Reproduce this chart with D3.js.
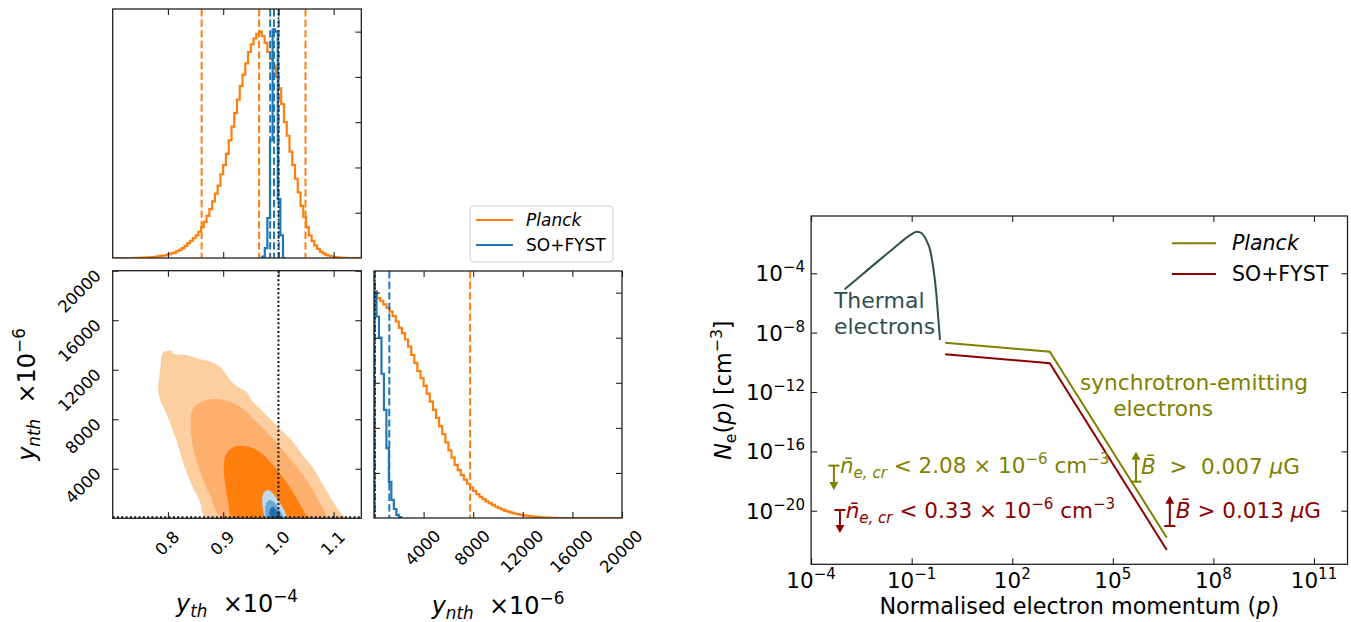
<!DOCTYPE html>
<html><head><meta charset="utf-8">
<script src="https://cdn.jsdelivr.net/npm/d3@7"></script>
<style>
body{margin:0;background:#fff}
svg text{font-family:"DejaVu Sans",sans-serif;white-space:pre}
</style></head>
<body><svg id="c" width="1351" height="622"></svg>
<script>
// ---------------- DATA ----------------
// 1D histogram of y_th (x1e-4), Planck (orange) - bin start / width / heights
const ythPlanckStart = 0.70, ythPlanckWidth = 0.005;
const ythPlanck = [0,0,0,0,0,0,0,0,
  0.003,0.005,0.008,0.01,0.013,0.017,0.022,0.028,0.035,0.045,0.055,0.065,0.08,0.1,0.12,0.15,0.18,0.22,0.27,0.33,0.38,0.44,
  0.5,0.58,0.68,0.8,0.93,1.08,1.25,1.42,1.6,1.85,2.05,2.3,2.6,2.9,3.2,3.5,3.8,4.05,4.3,4.55,4.72,4.85,4.95,5.0,4.9,4.75,
  4.55,4.4,4.25,4.0,3.75,3.4,3.0,2.7,2.35,2.05,1.75,1.45,1.15,0.9,0.68,0.5,0.38,0.28,0.2,0.14,0.1,0.07,0.05,0.035,0.022,
  0.015,0.01,0.006,0.003,0,0,0,0,0];
// SO+FYST (blue)
const ythSoStart = 0.9706, ythSoWidth = 0.0047;
const ythSo = [0.03,0.22,0.88,2.6,5.05,5.0,1.3,0.5,0];
// quantile lines
const ythPlanckQ = [0.861, 0.965, 1.049];
const ythSoQ = [0.985, 0.992, 1.0005];
// 1D histogram of y_nth (x1e-6)
const ynthPlanckStart = 0, ynthPlanckWidth = 250;
const ynthPlanck = [5.0,4.88,4.82,4.74,4.66,4.58,4.48,4.36,4.22,4.1,3.96,3.8,3.62,3.44,3.26,3.1,2.93,2.76,2.58,2.4,
  2.22,2.04,1.86,1.68,1.5,1.34,1.18,1.06,0.95,0.85,0.76,0.68,0.6,0.53,0.47,0.42,0.37,0.33,0.29,0.25,
  0.22,0.19,0.16,0.14,0.12,0.1,0.085,0.07,0.06,0.05,0.04,0.03,0.025,0.02,0.015,0.01,0.008,0.005,0.003,0,
  0,0,0,0,0,0,0,0,0,0,0,0,0,0,0,0,0,0,0,0];
const ynthSoStart = 0, ynthSoWidth = 200;
const ynthSo = [5.03,4.47,4.0,3.2,2.4,1.55,0.8,0.4,0.2,0.07,0.02];
const ynthPlanckQ = [7750];
const ynthSoQ = [80, 1235];
// truth values
const truthYth = 1.0, truthYnth = 0;
// 2D credible contours [y_th, y_nth]
const planckC1 = [[0.870,0],[0.858,1340],[0.846,2420],[0.831,4040],[0.816,6190],[0.798,8340],[0.785,9690],[0.782,10500],[0.784,11310],[0.787,12380],[0.790,13330],[0.798,13510],[0.807,13540],[0.810,13300],[0.834,13190],[0.858,12840],[0.882,12570],[0.894,12250],[0.906,11580],[0.918,10900],[0.930,10500],[0.942,10230],[0.954,9420],[0.972,8610],[0.990,7800],[1.008,7000],[1.026,6190],[1.044,5110],[1.063,4040],[1.081,2690],[1.099,1340],[1.111,530],[1.120,0]];
const planckC2 = [[0.899,0],[0.876,1880],[0.858,3760],[0.846,5650],[0.841,7800],[0.846,8880],[0.864,9470],[0.888,9640],[0.912,9420],[0.936,8830],[0.960,7800],[0.984,6730],[1.008,5520],[1.033,4170],[1.057,2690],[1.075,1210],[1.086,0]];
const planckC3 = [[0.918,0],[0.909,1340],[0.903,2960],[0.901,4310],[0.906,5250],[0.921,5790],[0.942,5810],[0.966,5380],[0.990,4310],[1.014,2960],[1.033,1620],[1.048,400],[1.052,0]];
const soC1 = [[0.978,0],[0.972,810],[0.971,1750],[0.975,2150],[0.983,2260],[0.990,2020],[0.999,1480],[1.008,860],[1.014,270],[1.015,0]];
const soC2 = [[0.979,0],[0.976,670],[0.978,1210],[0.984,1480],[0.992,1290],[1.001,750],[1.008,0]];
const soC3 = [[0.986,0],[0.984,590],[0.989,940],[0.996,670],[1.004,0]];
// tick values
const ythTicks = [0.8, 0.9, 1.0, 1.1];
const ynthTicks = [4000, 8000, 12000, 16000, 20000];
const histTicks = [1, 2, 3, 4, 5];

// Right panel: electron spectrum (log10 values)
const thermalLogP = [-3.0,-2.5,-2.0,-1.5,-1.2,-1.0,-0.85,-0.75,-0.65,-0.55,-0.45,-0.36,-0.275,-0.21,-0.156];
const thermalLogN = [-5.08,-4.13,-3.18,-2.24,-1.68,-1.36,-1.2,-1.24,-1.42,-1.83,-2.43,-3.56,-5.13,-6.92,-8.49];
const syncLogP = [0, 3.12, 6.61];
const syncPlanckLogN = [-8.68, -9.28, -21.82];
const syncSoLogN = [-9.46, -10.06, -22.65];
const pTickExp = [-4, -1, 2, 5, 8, 11];
const nTickExp = [-4, -8, -12, -16, -20];

// ---------------- DRAWING ----------------
const svg = d3.select('#c');
const FRAME = '#222';
const ORANGE = '#ff7f0e', BLUE = '#1f77b4';
const TL = 6;
const TFS = 16.5; // corner tick label size
const defs = svg.append('defs');
let clipN = 0;
function clip(x0, y0, x1, y1) {
  const id = 'cl' + (clipN++);
  defs.append('clipPath').attr('id', id).append('rect')
    .attr('x', x0).attr('y', y0).attr('width', x1 - x0).attr('height', y1 - y0);
  return 'url(#' + id + ')';
}
function axisG(g, gen, tr) {
  const a = g.append('g').attr('transform', tr).call(gen);
  a.select('.domain').remove();
  a.selectAll('.tick line').attr('stroke', FRAME).attr('stroke-width', 1.1);
  a.selectAll('.tick text').remove();
  return a;
}
function frame(g, x0, y0, x1, y1) {
  g.append('rect').attr('x', x0).attr('y', y0).attr('width', x1 - x0).attr('height', y1 - y0)
    .attr('fill', 'none').attr('stroke', FRAME).attr('stroke-width', 1.3);
}
function rich(t, parts, fs) {
  let cur = 0;
  parts.forEach(p => {
    const txt = p[0], st = p[1] || '';
    let target = 0, size = fs;
    if (st.includes('sup')) { target = -0.42 * fs; size = 0.7 * fs; }
    if (st.includes('sub')) { target = 0.22 * fs; size = 0.7 * fs; }
    const ts = t.append('tspan').text(txt).attr('font-size', size).attr('dy', (target - cur).toFixed(2));
    if (st.includes('it')) ts.attr('font-style', 'italic');
    cur = target;
  });
  return t;
}
function histPoints(start, width, vals) {
  const pts = [[start, 0]];
  vals.forEach((v, i) => { pts.push([start + i * width, v]); pts.push([start + (i + 1) * width, v]); });
  pts.push([start + vals.length * width, 0]);
  return pts;
}

// ---- scales for the corner plot
const xTh = d3.scaleLinear().domain([0.7, 1.15]).range([112.7, 361.3]);
const yTop = d3.scaleLinear().domain([0, 5.5]).range([258, 9]);
const yNth2 = d3.scaleLinear().domain([0, 20000]).range([518.3, 270.7]);
const xNth = d3.scaleLinear().domain([0, 20000]).range([374, 622]);
const yBR = d3.scaleLinear().domain([0, 5.48]).range([518, 271]);

// ===== Top panel: y_th histogram
{
  const g = svg.append('g');
  const [x0, x1, y0, y1] = [xTh.range()[0], xTh.range()[1], yTop.range()[1], yTop.range()[0]];
  const c = g.append('g').attr('clip-path', clip(x0, y0, x1, y1));
  const line = d3.line().x(d => xTh(d[0])).y(d => yTop(d[1]));
  c.append('path').attr('d', line(histPoints(ythPlanckStart, ythPlanckWidth, ythPlanck)))
    .attr('fill', 'none').attr('stroke', ORANGE).attr('stroke-width', 2.2);
  c.append('path').attr('d', line(histPoints(ythSoStart, ythSoWidth, ythSo)))
    .attr('fill', 'none').attr('stroke', BLUE).attr('stroke-width', 2.2);
  ythPlanckQ.forEach(q => c.append('line').attr('x1', xTh(q)).attr('x2', xTh(q)).attr('y1', y0).attr('y2', y1)
    .attr('stroke', ORANGE).attr('stroke-width', 2).attr('stroke-dasharray', '7.4,3.2'));
  ythSoQ.forEach(q => c.append('line').attr('x1', xTh(q)).attr('x2', xTh(q)).attr('y1', y0).attr('y2', y1)
    .attr('stroke', BLUE).attr('stroke-width', 2).attr('stroke-dasharray', '7.4,3.2'));
  c.append('line').attr('x1', xTh(truthYth)).attr('x2', xTh(truthYth)).attr('y1', y0).attr('y2', y1)
    .attr('stroke', '#111').attr('stroke-width', 1.6).attr('stroke-dasharray', '1.6,2.6');
  axisG(g, d3.axisTop(xTh).tickValues(ythTicks).tickSize(-TL), `translate(0,${y0})`);
  axisG(g, d3.axisBottom(xTh).tickValues(ythTicks).tickSize(-TL), `translate(0,${y1})`);
  axisG(g, d3.axisRight(yTop).tickValues(histTicks).tickSize(-TL), `translate(${x1},0)`);
  frame(g, x0, y0, x1, y1);
}

// ===== 2D panel
{
  const g = svg.append('g');
  const [x0, x1, y0, y1] = [xTh.range()[0], xTh.range()[1], yNth2.range()[1], yNth2.range()[0]];
  const c = g.append('g').attr('clip-path', clip(x0, y0, x1, y1));
  const area = d3.line().x(d => xTh(d[0])).y(d => yNth2(d[1])).curve(d3.curveCatmullRomClosed.alpha(0.5));
  const polys = [[planckC1, '#fdcfa0'], [planckC2, '#fdb06e'], [planckC3, '#ff7f0e'],
                 [soC1, '#bfd8ec'], [soC2, '#6ba6d6'], [soC3, '#1f6fb2']];
  polys.forEach(([p, col]) => c.append('path').attr('d', area(p)).attr('fill', col));
  c.append('line').attr('x1', xTh(truthYth)).attr('x2', xTh(truthYth)).attr('y1', y0).attr('y2', y1)
    .attr('stroke', '#111').attr('stroke-width', 2).attr('stroke-dasharray', '2,2.3');
  c.append('line').attr('x1', x0).attr('x2', x1).attr('y1', yNth2(truthYnth) - 1).attr('y2', yNth2(truthYnth) - 1)
    .attr('stroke', '#111').attr('stroke-width', 2).attr('stroke-dasharray', '2,2.3');
  axisG(g, d3.axisTop(xTh).tickValues(ythTicks).tickSize(-TL), `translate(0,${y0})`);
  axisG(g, d3.axisBottom(xTh).tickValues(ythTicks).tickSize(-TL), `translate(0,${y1})`);
  axisG(g, d3.axisLeft(yNth2).tickValues(ynthTicks).tickSize(-TL), `translate(${x0},0)`);
  axisG(g, d3.axisRight(yNth2).tickValues(ynthTicks).tickSize(-TL), `translate(${x1},0)`);
  frame(g, x0, y0, x1, y1);
  // rotated x labels
  ythTicks.forEach(v => {
    const t = g.append('text').attr('font-size', TFS).attr('text-anchor', 'end').attr('fill', '#000').text(v.toFixed(1));
    const w = t.node().getComputedTextLength();
    const bx = xTh(v) + 0.3535 * (w + 0.73 * TFS) - 1;
    t.attr('transform', `translate(${bx.toFixed(1)},538) rotate(-45)`);
  });
  ynthTicks.forEach(v => {
    g.append('text').attr('font-size', TFS).attr('text-anchor', 'end').attr('fill', '#000').text(String(v))
      .attr('transform', `translate(102,${(yNth2(v) + 6).toFixed(1)}) rotate(-45)`);
  });
  // axis labels
  rich(g.append('text').attr('x', (x0 + x1) / 2).attr('y', 612).attr('text-anchor', 'middle'),
    [['y', 'it'], ['th', 'itsub'], ['  ×10', ''], ['−4', 'sup']], 24);
  rich(g.append('text').attr('transform', `translate(35,${(y0 + y1) / 2}) rotate(-90)`).attr('text-anchor', 'middle'),
    [['y', 'it'], ['nth', 'itsub'], ['  ×10', ''], ['−6', 'sup']], 24);
}

// ===== Bottom-right: y_nth histogram
{
  const g = svg.append('g');
  const [x0, x1, y0, y1] = [xNth.range()[0], xNth.range()[1], yBR.range()[1], yBR.range()[0]];
  const c = g.append('g').attr('clip-path', clip(x0, y0, x1, y1));
  const line = d3.line().x(d => xNth(d[0])).y(d => yBR(d[1]));
  c.append('path').attr('d', line(histPoints(ynthPlanckStart, ynthPlanckWidth, ynthPlanck)))
    .attr('fill', 'none').attr('stroke', ORANGE).attr('stroke-width', 2.2);
  c.append('path').attr('d', line(histPoints(ynthSoStart, ynthSoWidth, ynthSo)))
    .attr('fill', 'none').attr('stroke', BLUE).attr('stroke-width', 2.2);
  ynthPlanckQ.forEach(q => c.append('line').attr('x1', xNth(q)).attr('x2', xNth(q)).attr('y1', y0).attr('y2', y1)
    .attr('stroke', ORANGE).attr('stroke-width', 2).attr('stroke-dasharray', '7.4,3.2'));
  ynthSoQ.forEach(q => c.append('line').attr('x1', xNth(q)).attr('x2', xNth(q)).attr('y1', y0).attr('y2', y1)
    .attr('stroke', BLUE).attr('stroke-width', 2).attr('stroke-dasharray', '7.4,3.2'));
  c.append('line').attr('x1', xNth(truthYnth) + 1).attr('x2', xNth(truthYnth) + 1).attr('y1', y0).attr('y2', y1)
    .attr('stroke', '#111').attr('stroke-width', 1.6).attr('stroke-dasharray', '1.6,2.6');
  axisG(g, d3.axisTop(xNth).tickValues(ynthTicks).tickSize(-TL), `translate(0,${y0})`);
  axisG(g, d3.axisBottom(xNth).tickValues(ynthTicks).tickSize(-TL), `translate(0,${y1})`);
  axisG(g, d3.axisLeft(yBR).tickValues(histTicks).tickSize(-TL), `translate(${x0},0)`);
  axisG(g, d3.axisRight(yBR).tickValues(histTicks).tickSize(-TL), `translate(${x1},0)`);
  frame(g, x0, y0, x1, y1);
  ynthTicks.forEach(v => {
    const t = g.append('text').attr('font-size', TFS).attr('text-anchor', 'end').attr('fill', '#000').text(String(v));
    const w = t.node().getComputedTextLength();
    const bx = xNth(v) + 0.3535 * (w + 0.73 * TFS) - 1;
    t.attr('transform', `translate(${bx.toFixed(1)},537) rotate(-45)`);
  });
  rich(g.append('text').attr('x', (x0 + x1) / 2).attr('y', 614).attr('text-anchor', 'middle'),
    [['y', 'it'], ['nth', 'itsub'], ['  ×10', ''], ['−6', 'sup']], 24);
  // legend
  const lg = g.append('g');
  lg.append('rect').attr('x', 470).attr('y', 206).attr('width', 143).attr('height', 56).attr('rx', 4)
    .attr('fill', '#fff').attr('fill-opacity', 0.85).attr('stroke', '#ccc').attr('stroke-width', 1);
  [['Planck', ORANGE, 'italic', 220], ['SO+FYST', BLUE, 'normal', 245]].forEach(([lab, col, sty, yy]) => {
    lg.append('line').attr('x1', 476).attr('x2', 513).attr('y1', yy).attr('y2', yy).attr('stroke', col).attr('stroke-width', 2);
    lg.append('text').attr('x', 526).attr('y', yy + 6).attr('font-size', 17).attr('font-style', sty).text(lab);
  });
}

// ===== Right plot: electron spectrum
{
  const g = svg.append('g');
  const xP = d3.scaleLog().domain([1e-4, 1e12]).range([811.1, 1347.5]);
  const yN = d3.scaleLog().domain([Math.pow(10, -23.61), Math.pow(10, -0.14)]).range([564.3, 216]);
  const [x0, x1, y0, y1] = [811.1, 1347.5, 216, 564.3];
  const c = g.append('g').attr('clip-path', clip(x0, y0, x1, y1));
  const ln = d3.line().x(d => xP(d[0])).y(d => yN(d[1]));
  const thermal = thermalLogP.map((p, i) => [Math.pow(10, p), Math.pow(10, thermalLogN[i])]);
  c.append('path').attr('d', ln.curve(d3.curveMonotoneX)(thermal)).attr('fill', 'none')
    .attr('stroke', '#2f4f4f').attr('stroke-width', 2);
  const lin = d3.line().x(d => xP(d[0])).y(d => yN(d[1]));
  const sp = syncLogP.map((p, i) => [Math.pow(10, p), Math.pow(10, syncPlanckLogN[i])]);
  const ss = syncLogP.map((p, i) => [Math.pow(10, p), Math.pow(10, syncSoLogN[i])]);
  c.append('path').attr('d', lin(sp)).attr('fill', 'none').attr('stroke', '#808000').attr('stroke-width', 2);
  c.append('path').attr('d', lin(ss)).attr('fill', 'none').attr('stroke', '#8b0000').attr('stroke-width', 2);

  const pT = pTickExp.map(e => Math.pow(10, e)), nT = nTickExp.map(e => Math.pow(10, e));
  axisG(g, d3.axisTop(xP).tickValues(pT).tickSize(-TL), `translate(0,${y0})`);
  axisG(g, d3.axisBottom(xP).tickValues(pT).tickSize(-TL), `translate(0,${y1})`);
  axisG(g, d3.axisLeft(yN).tickValues(nT).tickSize(-TL), `translate(${x0},0)`);
  axisG(g, d3.axisRight(yN).tickValues(nT).tickSize(-TL), `translate(${x1},0)`);
  frame(g, x0, y0, x1, y1);
  pTickExp.forEach(e => rich(g.append('text').attr('x', xP(Math.pow(10, e))).attr('y', 588).attr('text-anchor', 'middle'),
    [['10', ''], [(e < 0 ? '−' : '') + Math.abs(e), 'sup']], 21.5));
  nTickExp.forEach(e => rich(g.append('text').attr('x', 805).attr('y', yN(Math.pow(10, e)) + 8).attr('text-anchor', 'end'),
    [['10', ''], ['−' + Math.abs(e), 'sup']], 21.5));
  rich(g.append('text').attr('x', (x0 + x1) / 2).attr('y', 614).attr('text-anchor', 'middle'),
    [['Normalised electron momentum (', ''], ['p', 'it'], [')', '']], 22.3);
  rich(g.append('text').attr('transform', `translate(731,${(y0 + y1) / 2}) rotate(-90)`).attr('text-anchor', 'middle'),
    [['N', 'it'], ['e', 'sub'], ['(', ''], ['p', 'it'], [') [cm', ''], ['−3', 'sup'], [']', '']], 22.3);

  // legend
  [['Planck', '#808000', 'italic', 243.3], ['SO+FYST', '#8b0000', 'normal', 274]].forEach(([lab, col, sty, yy]) => {
    g.append('line').attr('x1', 1172).attr('x2', 1216).attr('y1', yy).attr('y2', yy).attr('stroke', col).attr('stroke-width', 2);
    g.append('text').attr('x', 1232).attr('y', yy + 7).attr('font-size', 20.5).attr('font-style', sty).text(lab);
  });
  const at = (lp, ln_) => [xP(Math.pow(10, lp)), yN(Math.pow(10, ln_))];
  // annotations
  const T = (lp, lnv, col, parts, fs, anchor) => {
    const [x, y] = at(lp, lnv);
    rich(g.append('text').attr('x', x).attr('y', y).attr('fill', col).attr('text-anchor', anchor || 'start'), parts, fs);
  };
  T(-3.32, -6.325, '#2f4f4f', [['Thermal', '']], 22);
  T(-3.32, -8.077, '#2f4f4f', [['electrons', '']], 22);
  T(4.02, -11.884, '#808000', [['synchrotron-emitting', '']], 21.7);
  T(5.01, -13.589, '#808000', [['electrons', '']], 21.7);
  T(-3.14, -17.46, '#808000', [['n\u0304', 'it'], ['e, cr', 'itsub'], [' < 2.08 × 10', ''], ['−6', 'sup'], [' cm', ''], ['−3', 'sup']], 21.5);
  T(-2.97, -20.49, '#8b0000', [['n\u0304', 'it'], ['e, cr', 'itsub'], [' < 0.33 × 10', ''], ['−6', 'sup'], [' cm', ''], ['−3', 'sup']], 21.5);
  T(5.84, -17.52, '#808000', [['B\u0304', 'it'], ['  >  0.007 ', ''], ['μ', 'it'], ['G', '']], 21.5);
  T(6.88, -20.49, '#8b0000', [['B\u0304', 'it'], [' > 0.013 ', ''], ['μ', 'it'], ['G', '']], 21.5);
  // limit arrows
  const arrow = (lp, nBar, nTip, col) => {
    const [x, yb] = at(lp, nBar), yt = at(lp, nTip)[1];
    const dir = Math.sign(yt - yb);
    g.append('line').attr('x1', x - 5.5).attr('x2', x + 5.5).attr('y1', yb).attr('y2', yb).attr('stroke', col).attr('stroke-width', 2);
    g.append('line').attr('x1', x).attr('x2', x).attr('y1', yb).attr('y2', yt - dir * 7).attr('stroke', col).attr('stroke-width', 2);
    g.append('path').attr('d', `M${x - 4.5},${yt - dir * 8}L${x + 4.5},${yt - dir * 8}L${x},${yt}Z`).attr('fill', col);
  };
  arrow(-3.32, -16.96, -18.6, '#808000');
  arrow(-3.14, -19.95, -21.5, '#8b0000');
  arrow(5.69, -18.04, -16.02, '#808000');
  arrow(6.70, -21.03, -18.99, '#8b0000');
}
</script></body></html>
